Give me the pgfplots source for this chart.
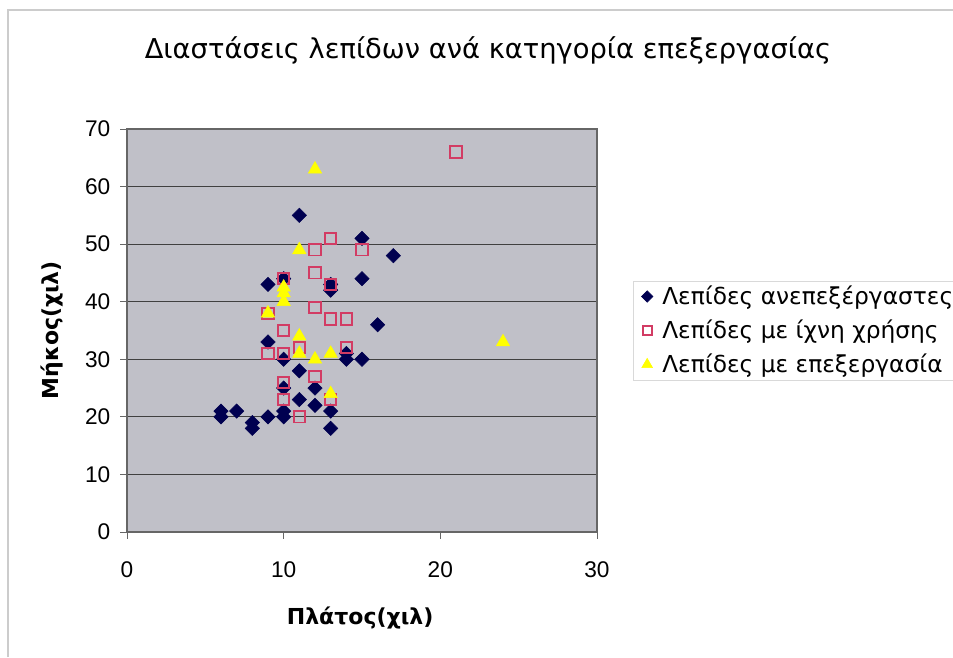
\documentclass[border=0pt]{standalone}
\usepackage{pgfplots}
\pgfplotsset{compat=1.18}
\usepackage{fontspec}
\setmainfont{Liberation Sans}
\newfontfamily\gothic{DejaVu Sans}
\definecolor{plotbg}{RGB}{192,192,200}
\definecolor{navy}{RGB}{0,0,80}
\definecolor{pinkred}{RGB}{210,60,100}
\definecolor{yel}{RGB}{255,255,0}
\begin{document}
\begin{tikzpicture}
\useasboundingbox (0pt,0pt) rectangle (714.75pt,492.75pt);
\draw[gray!40, line width=0.8pt] (6pt,0pt) -- (6pt,485.25pt) -- (714.75pt,485.25pt);
\begin{axis}[
	at={(95.25pt,93.75pt)}, anchor=south west,
	scale only axis,
	width=352.5pt, height=302.25pt,
	xmin=0, xmax=30, ymin=0, ymax=70,
	xtick={0,10,20,30},
	ytick={0,10,...,70},
	axis background/.style={fill=plotbg},
	axis line style={draw=black!60, line width=0.8pt},
	ymajorgrids=true,
	major grid style={draw=black!75, line width=0.6pt},
	tick align=outside,
	tick style={draw=black!60, line width=0.6pt},
	major tick length=5pt,
	xtick pos=bottom, ytick pos=left,
	ticklabel style={font=\fontsize{17}{20}\selectfont},
	xticklabel style={yshift=-14pt},
	yticklabel style={xshift=-4pt},
	/pgf/number format/assume math mode=true,
	title={\gothic Διαστάσεις λεπίδων ανά κατηγορία επεξεργασίας},
	title style={font=\fontsize{20.5}{24}\selectfont, at={(0.768,1.176)}, anchor=center},
	xlabel={\gothic\bfseries Πλάτος(χιλ)},
	xlabel style={font=\fontsize{16.5}{19}\selectfont, at={(0.496,-0.213)}, anchor=center},
	ylabel={\gothic\bfseries Μήκος(χιλ)},
	ylabel style={font=\fontsize{16.5}{19}\selectfont, at={(-0.16,0.501)}, anchor=center, rotate=0},
	legend style={at={(1.077,0.5)}, anchor=west, draw=gray!30, fill=white,
		font=\gothic\fontsize{17.5}{20}\selectfont, row sep=6pt, inner xsep=6pt},
	legend image post style={scale=0.8},
	legend cell align=left,
	clip=false,
]
\addplot[only marks, mark=square*, mark size=3.8pt, mark options={rotate=45, fill=navy, draw=navy}]
coordinates{
	(6,21) (6,20) (7,21) (8,19) (8,18) (9,20) (9,43) (9,33)
	(10,44) (10,30) (10,25) (10,21) (10,20)
	(11,55) (11,28) (11,23) (12,25) (12,22)
	(13,43) (13,42) (13,21) (13,18)
	(14,31) (14,30) (15,51) (15,44) (15,30) (16,36) (17,48)
};
\addlegendentry{\hspace{5pt}Λεπίδες ανεπεξέργαστες}

\addplot[only marks, mark=square, mark size=4.2pt, mark options={draw=pinkred, line width=1.4pt}]
coordinates{
	(9,38) (9,31) (10,44) (10,35) (10,31) (10,26) (10,23)
	(11,32) (11,20) (12,49) (12,45) (12,39) (12,27)
	(13,51) (13,43) (13,37) (13,23) (14,37) (14,32)
	(15,49) (21,66)
};
\addlegendentry{\hspace{5pt}Λεπίδες με ίχνη χρήσης}

\addplot[only marks, mark=triangle*, mark size=5.8pt, mark options={fill=yel, draw=yel}]
coordinates{
	(9,38) (10,42.5) (10,41.5) (10,40) (11,49) (11,34) (11,31)
	(12,63) (12,30) (13,31) (13,24) (24,33)
};
\addlegendentry{\hspace{5pt}Λεπίδες με επεξεργασία}
\end{axis}
\end{tikzpicture}
\end{document}
